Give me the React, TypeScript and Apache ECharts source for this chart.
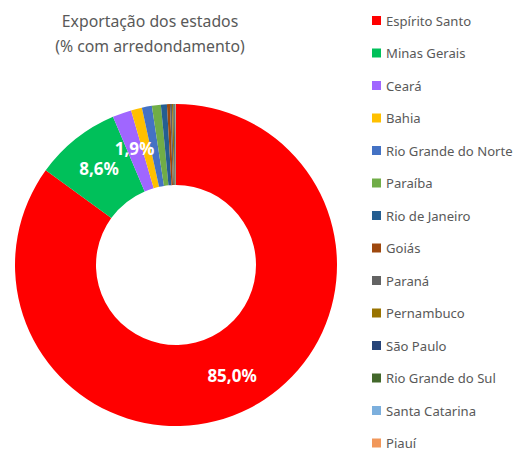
import React, { useEffect, useRef } from "react";
import * as echarts from "echarts";

const categories = [
  "Espírito Santo",
  "Minas Gerais",
  "Ceará",
  "Bahia",
  "Rio Grande do Norte",
  "Paraíba",
  "Rio de Janeiro",
  "Goiás",
  "Paraná",
  "Pernambuco",
  "São Paulo",
  "Rio Grande do Sul",
  "Santa Catarina",
  "Piauí",
];
const values = [85.0, 8.6, 1.9, 1.1, 1.0, 0.9, 0.6, 0.3, 0.2, 0.15, 0.1, 0.1, 0.03, 0.02];
const colors = [
  "#FF0000",
  "#00C05A",
  "#A066FF",
  "#FFC000",
  "#4472C4",
  "#70AD47",
  "#255E91",
  "#9E480E",
  "#636363",
  "#997300",
  "#264478",
  "#43682B",
  "#7CAFDD",
  "#F1975A",
];
const labelledCount = 3;

export default function App() {
  const ref = useRef<HTMLDivElement>(null);
  useEffect(() => {
    if (!ref.current) return;
    const chart = echarts.init(ref.current, undefined, { renderer: "svg" });
    const font = "'Noto Sans', sans-serif";
    chart.setOption({
      animation: false,
      title: {
        text: "Exportação dos estados\n(% com arredondamento)",
        left: 145,
        top: 3,
        textAlign: "center",
        textStyle: {
          fontFamily: font,
          fontSize: 15.8,
          fontWeight: "normal",
          color: "#595959",
          lineHeight: 25,
        },
      },
      legend: {
        orient: "vertical",
        left: 372,
        top: 14,
        padding: 0,
        height: 470,
        itemWidth: 9,
        itemHeight: 9,
        itemGap: 19.5,
        itemTextGap: 5,
        icon: "rect",
        data: categories,
        textStyle: {
          fontFamily: font,
          fontSize: 13.1,
          color: "#595959",
        },
      },
      series: [
        {
          type: "pie",
          center: [176, 265],
          radius: [80, 161],
          startAngle: 90,
          clockwise: true,
          avoidLabelOverlap: false,
          label: {
            show: true,
            position: "inside",
            fontFamily: font,
            fontSize: 17,
            fontWeight: "bold",
            color: "#FFFFFF",
            formatter: (p: any) =>
              p.dataIndex < labelledCount ? p.value.toFixed(1).replace(".", ",") + "%" : "",
          },
          labelLine: { show: false },
          emphasis: { disabled: true },
          data: categories.map((name, i) => ({
            name,
            value: values[i],
            itemStyle: { color: colors[i] },
          })),
        },
      ],
    });
    return () => chart.dispose();
  }, []);
  return <div ref={ref} style={{ width: 521, height: 459, margin: -8 }} />;
}
